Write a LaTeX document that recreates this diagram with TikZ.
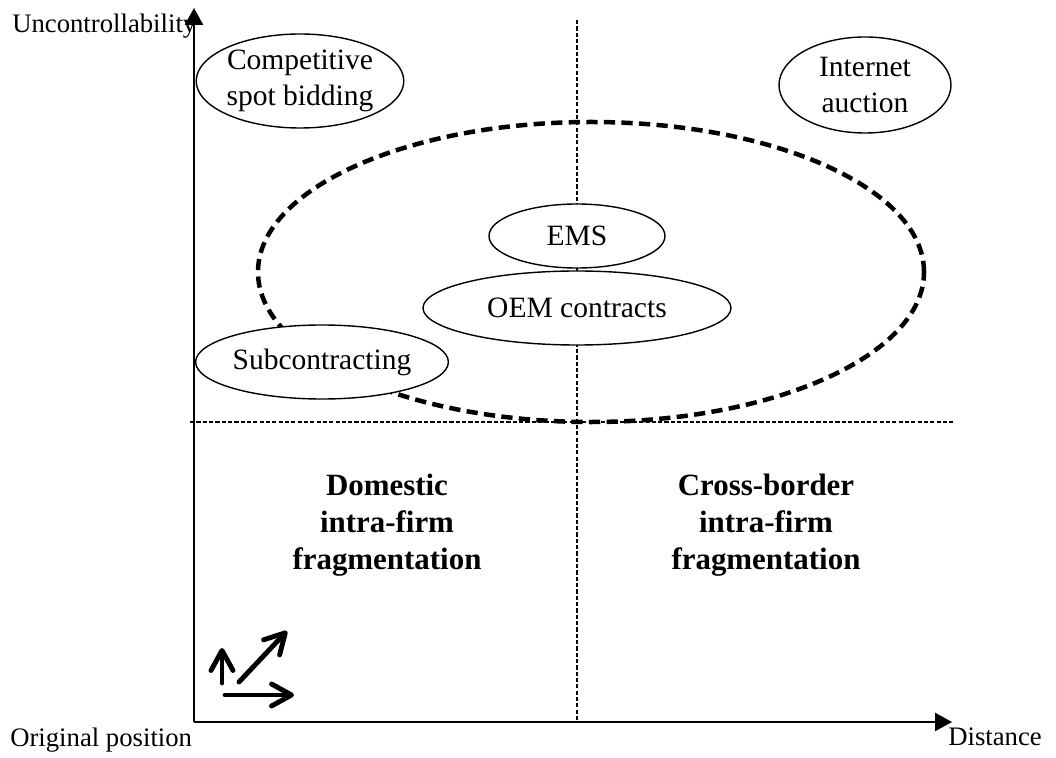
\documentclass[tikz,border=0pt]{standalone}
\usepackage{fontspec}
\setmainfont{Liberation Serif}
\usetikzlibrary{shapes.geometric,arrows.meta}
\begin{document}
\begin{tikzpicture}[x=0.25mm,y=-0.25mm]
    \tikzstyle{bubble}=[draw,line width=1pt,fill=white,shape=ellipse,inner sep=0pt,align=center,font=\fontsize{21}{25.5}\selectfont]
    \tikzstyle{axis}=[line width=1.4pt,-{Triangle[length=4.2mm,width=4.5mm]}]
    \tikzstyle{guide}=[line width=1.1pt,dash pattern=on 3pt off 1.5pt]
    \tikzstyle{region}=[line width=3.2pt,dash pattern=on 8pt off 4.5pt]
    \tikzstyle{move}=[line width=3.5pt,line cap=round,-{Straight Barb[round,length=5mm,width=5.5mm]}]
    \tikzstyle{axislabel}=[inner sep=0pt,anchor=base west,font=\fontsize{19}{23}\selectfont]
    \tikzstyle{quadrant}=[align=center,inner sep=0pt,font=\fontsize{22}{26.2}\selectfont\bfseries]

    \useasboundingbox (0,0) rectangle (1056,758);

    % axes and guides
    \coordinate (origin) at (194,722);
    \coordinate (ytip) at (194,8);
    \coordinate (xtip) at (952,722);
    \coordinate (vtop) at (577,20);
    \coordinate (vbot) at (577,722);
    \coordinate (hleft) at (190,422);
    \coordinate (hright) at (955,422);

    \draw[guide] (vtop) -- (vbot);
    \draw[guide] (hleft) -- (hright);

    \draw[region] (591,272) ellipse [x radius=83.25mm, y radius=37.5mm];

    \node[bubble,minimum width=49mm,minimum height=23.5mm] at (300,81) (spot) {Competitive\\spot bidding};
    \node[bubble,minimum width=43mm,minimum height=24mm] at (865,85) (auction) {Internet\\auction};
    \node[bubble,minimum width=44mm,minimum height=16mm] at (577,236) (ems) {EMS};
    \node[bubble,minimum width=77mm,minimum height=18.5mm] at (577,308) (oem) {OEM contracts};
    \node[bubble,minimum width=59.5mm,minimum height=18.5mm] at (322,362) (sub) {Subcontracting};

    \draw[axis] (origin) -- (ytip);
    \draw[axis] (origin) -- (xtip);

    \node[axislabel] at (12,33) (ylabel) {Uncontrollability};
    \node[axislabel] at (10,746) (olabel) {Original position};
    \node[axislabel] at (948,745) (xlabel) {Distance};

    \node[quadrant] at (387,525) (domestic) {Domestic\\intra-firm\\fragmentation};
    \node[quadrant] at (766,525) (cross) {Cross-border\\intra-firm\\fragmentation};

    % small arrows
    \coordinate (up0) at (222,683);
    \coordinate (up1) at (222,648);
    \coordinate (dg0) at (239,682);
    \coordinate (dg1) at (287,631);
    \coordinate (rt0) at (225,695);
    \coordinate (rt1) at (294,695);
    \draw[move] (up0) -- (up1);
    \draw[move] (dg0) -- (dg1);
    \draw[move] (rt0) -- (rt1);
\end{tikzpicture}
\end{document}
